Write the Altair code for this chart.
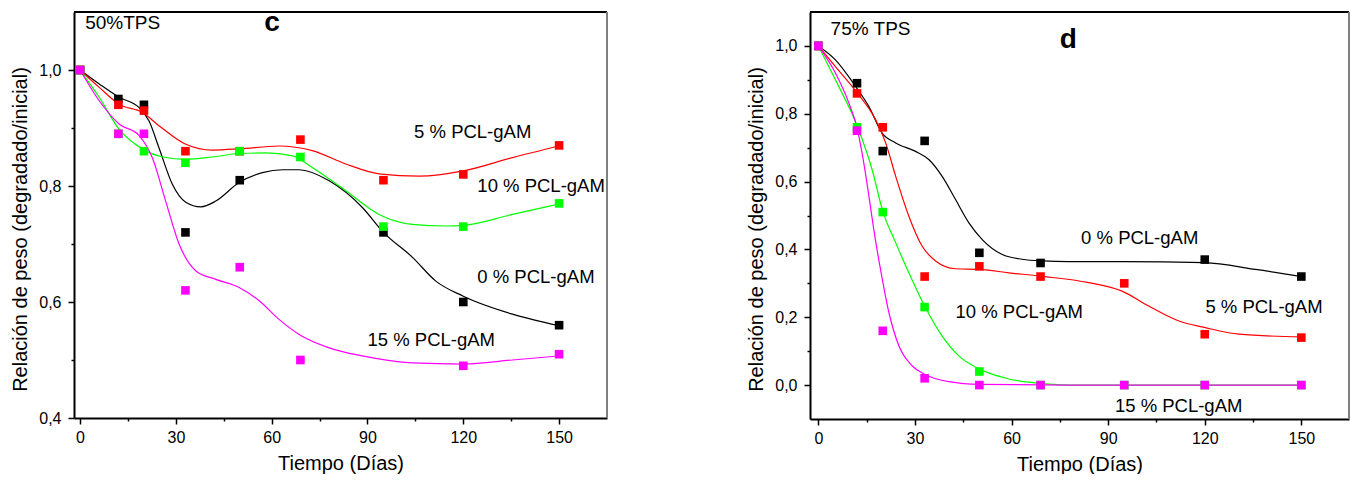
import altair as alt
import pandas as pd

# Sampling days of the degradation test
days = [0, 12, 20, 33, 50, 69, 95, 120, 150]
series_names = ["0 % PCL-gAM", "5 % PCL-gAM", "10 % PCL-gAM", "15 % PCL-gAM"]
series_colors = ["#000000", "#ff0000", "#00ff00", "#ff00ff"]

# Panel c: 50 % TPS, measured weight ratio (None = no measurement shown)
c_pcl0 = [1.0, 0.95, 0.94, 0.72, 0.81, None, 0.72, 0.60, 0.56]
c_pcl5 = [1.0, 0.94, 0.93, 0.86, 0.86, 0.88, 0.81, 0.82, 0.87]
c_pcl10 = [1.0, 0.89, 0.86, 0.84, 0.86, 0.85, 0.73, 0.73, 0.77]
c_pcl15 = [1.0, 0.89, 0.89, 0.62, 0.66, 0.50, None, 0.49, 0.51]

# Panel d: 75 % TPS, measured weight ratio
d_pcl0 = [1.0, 0.89, 0.69, 0.72, 0.39, 0.36, None, 0.37, 0.32]
d_pcl5 = [1.0, 0.86, 0.76, 0.32, 0.35, 0.32, 0.30, 0.15, 0.14]
d_pcl10 = [1.0, 0.76, 0.51, 0.23, 0.04, 0.0, 0.0, 0.0, 0.0]
d_pcl15 = [1.0, 0.75, 0.16, 0.02, 0.0, 0.0, 0.0, 0.0, 0.0]

# Fitted trend curves, panel c (day, ratio)
c_fit0_t = [0, 6, 12.2, 18.5, 21.6, 24.7, 28.9, 33.1, 37.8, 42.5, 49.8, 57.1, 63.4, 68.6, 78, 88.4, 95, 104.1, 111.4, 120, 135.4, 150]
c_fit0_v = [1.0, 0.976, 0.953, 0.935, 0.912, 0.866, 0.803, 0.772, 0.764, 0.774, 0.806, 0.823, 0.828, 0.828, 0.809, 0.763, 0.72, 0.677, 0.636, 0.61, 0.579, 0.559]
c_fit5_t = [0, 6, 12.2, 19.5, 24.7, 33.1, 41.4, 49.8, 62.3, 72.7, 83.2, 93.6, 106.2, 120, 135.4, 150]
c_fit5_v = [1.0, 0.97, 0.941, 0.927, 0.904, 0.872, 0.862, 0.864, 0.869, 0.861, 0.838, 0.821, 0.817, 0.826, 0.849, 0.869]
c_fit10_t = [0, 6, 12.2, 19.5, 26, 33.1, 41.4, 49.8, 58, 66.5, 72.7, 83.2, 93.6, 104, 114.7, 120, 135.4, 150]
c_fit10_v = [1.0, 0.953, 0.898, 0.864, 0.85, 0.846, 0.85, 0.856, 0.857, 0.852, 0.832, 0.792, 0.751, 0.734, 0.731, 0.732, 0.751, 0.769]
c_fit15_t = [0, 6, 12.2, 18.5, 22.6, 26.8, 31, 36.2, 42.5, 49.8, 56.1, 62.3, 68.6, 78, 88.4, 104, 120, 135.4, 150]
c_fit15_v = [1.0, 0.947, 0.907, 0.887, 0.849, 0.774, 0.70, 0.654, 0.639, 0.625, 0.602, 0.570, 0.544, 0.521, 0.507, 0.495, 0.493, 0.5, 0.507]

# Fitted trend curves, panel d (day, ratio)
d_fit0_t = [0, 5.3, 11.6, 15.7, 19.8, 24, 30.2, 34.3, 38.4, 42.6, 46.7, 50.9, 57.1, 63.3, 69.5, 77.8, 94.3, 119.9, 135.8, 150]
d_fit0_v = [1.0, 0.959, 0.88, 0.821, 0.743, 0.714, 0.689, 0.665, 0.616, 0.547, 0.479, 0.429, 0.385, 0.371, 0.366, 0.364, 0.364, 0.361, 0.341, 0.32]
d_fit5_t = [0, 5.3, 12.1, 17.8, 20.9, 24, 28.1, 32.2, 36.4, 42.6, 50.1, 59.2, 69, 84, 94.3, 102.6, 112, 119.9, 130.6, 150]
d_fit5_v = [1.0, 0.939, 0.861, 0.782, 0.714, 0.616, 0.498, 0.41, 0.366, 0.343, 0.341, 0.331, 0.321, 0.302, 0.277, 0.233, 0.189, 0.17, 0.15, 0.142]
d_fit10_t = [0, 5.3, 12.1, 16.7, 20, 24, 28.1, 33, 38.4, 43.6, 50.1, 59.2, 69, 77.8, 150]
d_fit10_v = [1.0, 0.9, 0.763, 0.635, 0.513, 0.42, 0.331, 0.233, 0.145, 0.086, 0.047, 0.018, 0.005, 0.0, 0.0]
d_fit15_t = [0, 5.3, 9.5, 12.1, 14.1, 15.7, 17.2, 19.3, 21.9, 25, 29.1, 33, 40.5, 50.1, 77.8, 150]
d_fit15_v = [1.0, 0.92, 0.831, 0.755, 0.655, 0.557, 0.459, 0.341, 0.214, 0.116, 0.057, 0.032, 0.01, 0.002, 0.0, 0.0]

# Curve labels: (text, day, ratio)
c_labels = [("5 % PCL-gAM", 104.6, 0.883), ("10 % PCL-gAM", 124.4, 0.789),
            ("0 % PCL-gAM", 124.4, 0.632), ("15 % PCL-gAM", 90.0, 0.525)]
d_labels = [("0 % PCL-gAM", 81.6, 0.415), ("5 % PCL-gAM", 120.2, 0.212),
            ("10 % PCL-gAM", 42.6, 0.199), ("15 % PCL-gAM", 92.1, -0.080)]
c_headers = [("50%TPS", 1.6, 1.071)]
d_headers = [("75% TPS", 3.8, 1.032)]
c_letter = [("c", 60.1, 1.067)]
d_letter = [("d", 77.6, 0.993)]

# Axis tick positions (every 15 days / every 0.1, labels on every other one)
x_ticks = [0, 15, 30, 45, 60, 75, 90, 105, 120, 135, 150]
c_y_ticks = [0.4, 0.5, 0.6, 0.7, 0.8, 0.9, 1.0]
d_y_ticks = [0.0, 0.1, 0.2, 0.3, 0.4, 0.5, 0.6, 0.7, 0.8, 0.9, 1.0]

FONT = "Liberation Sans"
AXIS_TITLE = "Relación de peso (degradado/inicial)"
MAJOR_Y = "round(datum.value * 10) % 2 == 0"


def points_frame(values_lists):
    rows = []
    for name, vals in zip(series_names, values_lists):
        for t, v in zip(days, vals):
            if v is not None:
                rows.append({"t": t, "v": v, "serie": name})
    return pd.DataFrame(rows)


def curves_frame(curves):
    rows = []
    for name, (ts, vs) in zip(series_names, curves):
        for t, v in zip(ts, vs):
            rows.append({"t": t, "v": v, "serie": name})
    return pd.DataFrame(rows)


def text_frame(items):
    return pd.DataFrame([{"label": s, "t": t, "v": v} for s, t, v in items])


def panel(pts, curves, labels, headers, letter, x_dom, y_dom, y_ticks, width, height):
    color = alt.Color("serie:N", scale=alt.Scale(domain=series_names, range=series_colors), legend=None)
    x_axis = alt.Axis(
        values=x_ticks,
        labelExpr="datum.value % 30 == 0 ? datum.label : ''",
        title="Tiempo (Días)",
        grid=False,
        tickSize={"condition": {"test": "datum.value % 30 == 0", "value": 6}, "value": 3},
        labelPadding=5,
        titlePadding=8,
    )
    y_axis = alt.Axis(
        values=y_ticks,
        labelExpr=MAJOR_Y + " ? replace(format(datum.value, '.1f'), '.', ',') : ''",
        title=AXIS_TITLE,
        grid=False,
        tickSize={"condition": {"test": MAJOR_Y, "value": 6}, "value": 3},
        labelPadding=7,
        titlePadding=8,
        titleY=217,
    )
    x = alt.X("t:Q", scale=alt.Scale(domain=x_dom, nice=False, zero=False), axis=x_axis)
    y = alt.Y("v:Q", scale=alt.Scale(domain=y_dom, nice=False, zero=False), axis=y_axis)

    lines = alt.Chart(curves).mark_line(interpolate="monotone", strokeWidth=1.2).encode(
        x=x, y=y, color=color, detail="serie:N")
    squares = alt.Chart(pts).mark_square(size=74, opacity=1).encode(x="t:Q", y="v:Q", color=color)
    txt = alt.Chart(text_frame(labels)).mark_text(
        align="left", baseline="alphabetic", font=FONT, fontSize=18.5, color="black"
    ).encode(x="t:Q", y="v:Q", text="label:N")
    head = alt.Chart(text_frame(headers)).mark_text(
        align="left", baseline="alphabetic", font=FONT, fontSize=19, color="black"
    ).encode(x="t:Q", y="v:Q", text="label:N")
    let = alt.Chart(text_frame(letter)).mark_text(
        align="center", baseline="alphabetic", font=FONT, fontSize=28, fontWeight="bold", color="black"
    ).encode(x="t:Q", y="v:Q", text="label:N")
    top_border = alt.Chart(pts).mark_rule(color="black", strokeWidth=1).encode(
        x=alt.value(0), x2=alt.value(width), y=alt.value(0))
    right_border = alt.Chart(pts).mark_rule(color="#808080", strokeWidth=2).encode(
        x=alt.value(width), y=alt.value(0), y2=alt.value(height))
    return alt.layer(top_border, right_border, lines, squares, txt, head, let).properties(
        width=width, height=height)


left = panel(
    points_frame([c_pcl0, c_pcl5, c_pcl10, c_pcl15]),
    curves_frame([(c_fit0_t, c_fit0_v), (c_fit5_t, c_fit5_v), (c_fit10_t, c_fit10_v), (c_fit15_t, c_fit15_v)]),
    c_labels, c_headers, c_letter,
    [-1.9, 165.0], [0.4, 1.1], c_y_ticks, 533, 406,
)
right = panel(
    points_frame([d_pcl0, d_pcl5, d_pcl10, d_pcl15]),
    curves_frame([(d_fit0_t, d_fit0_v), (d_fit5_t, d_fit5_v), (d_fit10_t, d_fit10_v), (d_fit15_t, d_fit15_v)]),
    d_labels, d_headers, d_letter,
    [-2.6, 164.8], [-0.1, 1.1], d_y_ticks, 539, 407,
)

chart = alt.hconcat(left, right, spacing=138).properties(
    padding={"left": 10, "top": 9, "right": 0, "bottom": 0},
    background="white",
).configure_view(stroke=None).configure_axis(
    domainColor="black",
    domainWidth=2,
    tickColor="black",
    tickWidth=1.5,
    labelFont=FONT,
    labelFontSize=16,
    labelColor="black",
    titleFont=FONT,
    titleFontSize=20,
    titleFontWeight="normal",
    titleColor="black",
    labelOverlap=False,
    labelFlush=False,
).resolve_scale(x="independent", y="independent")

chart.save("out.html", embed_options={"renderer": "svg", "actions": False})
